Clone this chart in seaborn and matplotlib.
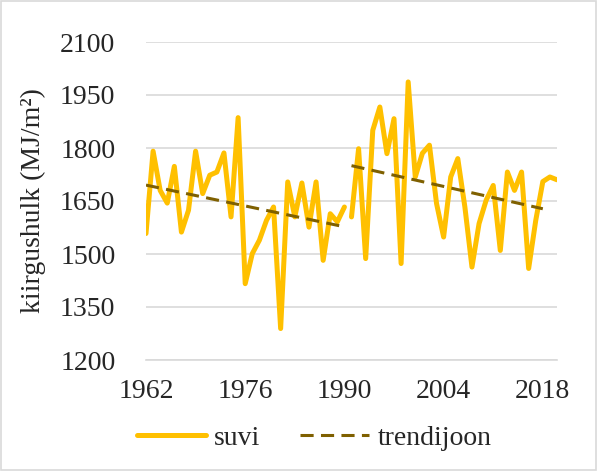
import numpy as np
import pandas as pd
import seaborn as sns
import matplotlib.pyplot as plt
from matplotlib.lines import Line2D
from matplotlib.patches import Rectangle

# summer radiation sums, two measuring periods (gap between 1990 and 1991)
years_1 = list(range(1962, 1991))
suvi_1 = [1558, 1791, 1680, 1644, 1748, 1562, 1624, 1791, 1671, 1723,
          1732, 1786, 1605, 1886, 1416, 1501, 1539, 1595, 1633, 1289,
          1704, 1605, 1701, 1576, 1704, 1482, 1614, 1591, 1633]
years_2 = list(range(1991, 2021))
suvi_2 = [1605, 1798, 1487, 1850, 1916, 1784, 1883, 1473, 1987, 1718,
          1785, 1808, 1643, 1548, 1718, 1770, 1633, 1463, 1586, 1652,
          1694, 1510, 1732, 1680, 1732, 1459, 1595, 1705, 1718, 1710]

# trend lines (end points)
trend_1_years = [1962, 1990]
trend_1_vals = [1695, 1577]
trend_2_years = [1991, 2018]
trend_2_vals = [1750, 1628]

x_ticks = [1962, 1976, 1990, 2004, 2018]
y_ticks = [1200, 1350, 1500, 1650, 1800, 1950, 2100]

sns.set_style('white')
plt.rcParams['font.family'] = ['Liberation Serif', 'DejaVu Serif']

df = pd.concat([
    pd.DataFrame({'aasta': years_1, 'kiirgus': suvi_1, 'periood': 1}),
    pd.DataFrame({'aasta': years_2, 'kiirgus': suvi_2, 'periood': 2}),
], ignore_index=True)
trend = pd.concat([
    pd.DataFrame({'aasta': trend_1_years, 'kiirgus': trend_1_vals, 'periood': 1}),
    pd.DataFrame({'aasta': trend_2_years, 'kiirgus': trend_2_vals, 'periood': 2}),
], ignore_index=True)

suvi_color = '#FFC000'
trend_color = '#7F6000'
grid_color = '#D9D9D9'
trend_dash = (0, (4.3, 2.4))

fig = plt.figure(figsize=(5.97, 4.71), dpi=100)
ax = fig.add_axes([146 / 597, 1 - 360 / 471, (557 - 146) / 597, (360 - 42) / 471])

sns.lineplot(data=df, x='aasta', y='kiirgus', units='periood', estimator=None,
             color=suvi_color, linewidth=3.6, ax=ax, legend=False,
             solid_joinstyle='round', solid_capstyle='round')
sns.lineplot(data=trend, x='aasta', y='kiirgus', units='periood', estimator=None,
             color=trend_color, linewidth=2.2, ax=ax, legend=False,
             dashes=False, linestyle=trend_dash)

ax.set_xlim(1962, 2020)
ax.set_ylim(1200, 2100)
ax.set_xticks(x_ticks)
ax.set_yticks(y_ticks)
ax.set_xlabel('')
ax.set_ylabel('kiirgushulk (MJ/m²)', fontsize=20, labelpad=10)
ax.tick_params(axis='x', labelsize=20, direction='inout', length=16,
               color=grid_color, width=1.2, pad=6)
ax.tick_params(axis='y', labelsize=20, length=0, pad=22)
ax.grid(axis='y', color=grid_color, linewidth=1.2)
ax.set_axisbelow(True)
for side in ['top', 'right', 'left']:
    ax.spines[side].set_visible(False)
ax.spines['bottom'].set_color(grid_color)
ax.spines['bottom'].set_linewidth(1.2)

handles = [
    Line2D([], [], color=suvi_color, linewidth=3.6),
    Line2D([], [], color=trend_color, linewidth=2.2, linestyle=trend_dash),
]
fig.legend(handles, ['suvi', 'trendijoon'], loc='center', ncol=2,
           bbox_to_anchor=(314 / 597, 1 - 438 / 471), frameon=False,
           fontsize=20, handlelength=2.5, columnspacing=1.4, handletextpad=0.3)

fig.patches.append(Rectangle((0.002, 0.002), 0.996, 0.996, transform=fig.transFigure,
                             fill=False, edgecolor=grid_color, linewidth=1.2))

fig.savefig('out.png', dpi=100)
